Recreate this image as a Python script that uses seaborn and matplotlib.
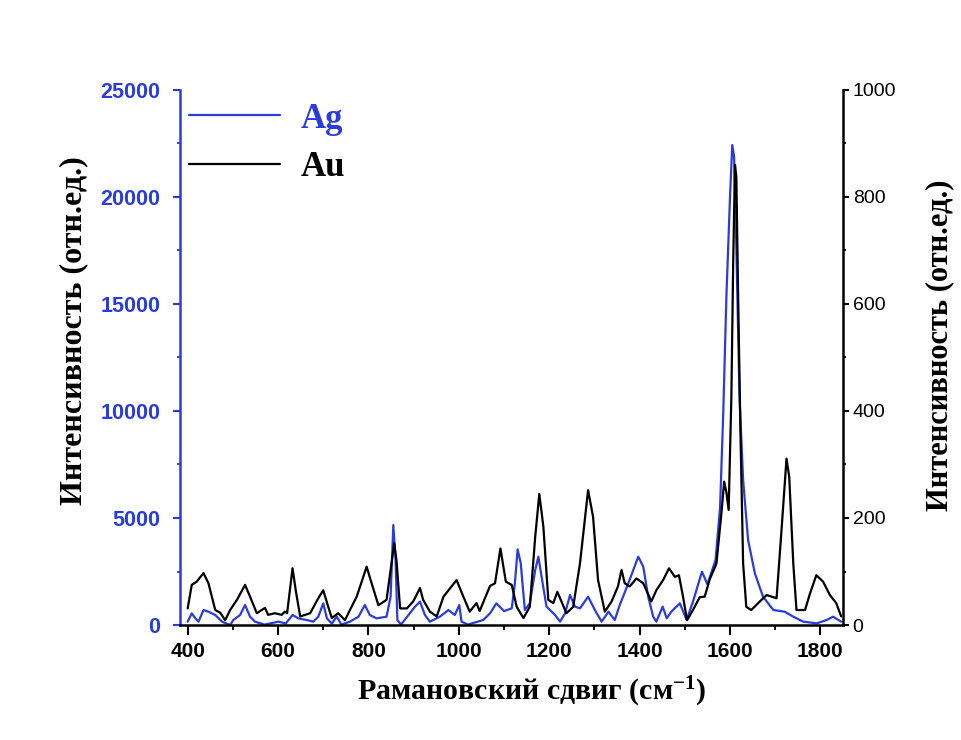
import matplotlib
matplotlib.use("Agg")
import matplotlib.pyplot as plt
from matplotlib.lines import Line2D
from matplotlib.ticker import MultipleLocator
import seaborn as sns
import pandas as pd

# Raman spectra (wavenumber, intensity) for the two substrates
ag_shift = [400, 409, 417, 424, 435, 446, 461, 476, 494, 501, 516, 527, 538, 549, 570,
            601, 617, 632, 645, 663, 678, 689, 700, 708, 719, 730, 740, 759, 778, 792,
            803, 818, 840, 849, 855, 860, 864, 872, 880, 903, 914, 925, 936, 958, 977,
            991, 1001, 1006, 1020, 1054, 1069, 1083, 1100, 1117, 1124, 1130, 1137, 1146,
            1157, 1169, 1176, 1183, 1194, 1213, 1224, 1235, 1246, 1257, 1268, 1286, 1301,
            1316, 1331, 1345, 1356, 1375, 1397, 1408, 1419, 1430, 1437, 1451, 1460, 1470,
            1489, 1504, 1518, 1538, 1550, 1568, 1578, 1585, 1592, 1600, 1605, 1609, 1614,
            1621, 1629, 1640, 1655, 1673, 1696, 1721, 1740, 1762, 1792, 1814, 1828, 1846]
ag_intensity = [156, 545, 311, 156, 700, 622, 467, 156, 0, 234, 467, 934, 389, 156, 20,
                156, 70, 467, 311, 234, 156, 389, 1012, 311, 70, 389, 20, 156, 389, 934,
                467, 311, 389, 1324, 4673, 3037, 234, 20, 234, 857, 1090, 467, 156, 389, 700,
                467, 934, 156, 20, 234, 545, 1012, 650, 778, 1947, 3536, 2881, 700,
                1012, 2570, 3193, 2259, 857, 467, 156, 545, 1402, 857, 778, 1324, 700,
                156, 622, 234, 934, 1947, 3193, 2726, 1324, 389, 156, 857, 311, 622,
                1012, 234, 1090, 2492, 1900, 3037, 5500, 9893, 15342, 20016, 22430, 21884, 17680,
                10669, 6776, 3972, 2416, 1324, 700, 622, 389, 156, 78, 234, 389, 156]

au_shift = [400, 409, 420, 435, 446, 461, 472, 483, 494, 509, 527, 538, 553, 571, 578,
            593, 608, 615, 620, 632, 640, 649, 671, 689, 700, 711, 719, 733, 748, 759,
            774, 796, 807, 822, 840, 851, 857, 862, 870, 885, 899, 914, 921, 936, 951,
            966, 995, 1010, 1024, 1039, 1046, 1069, 1080, 1092, 1104, 1117, 1128, 1143,
            1157, 1169, 1178, 1187, 1198, 1209, 1218, 1227, 1238, 1253, 1268, 1286, 1297,
            1308, 1323, 1338, 1352, 1360, 1367, 1378, 1393, 1408, 1426, 1437, 1452, 1465,
            1478, 1487, 1496, 1505, 1518, 1533, 1544, 1555, 1570, 1581, 1587, 1592, 1597,
            1603, 1607, 1611, 1614, 1618, 1623, 1629, 1636, 1647, 1666, 1681, 1692, 1703,
            1714, 1725, 1731, 1740, 1747, 1766, 1777, 1791, 1806, 1821, 1835, 1846]
au_intensity = [31, 75, 81, 97, 78, 28, 23, 9, 28, 47, 75, 53, 22, 32, 19,
                22, 19, 25, 22, 106, 60, 16, 22, 50, 65, 34, 13, 22, 9, 28,
                53, 109, 78, 37, 47, 115, 153, 121, 31, 31, 44, 69, 47, 25, 16,
                53, 84, 53, 25, 41, 26, 73, 78, 143, 81, 75, 34, 13,
                34, 165, 245, 184, 47, 41, 62, 44, 22, 34, 115, 252, 202,
                84, 25, 44, 72, 103, 78, 72, 87, 78, 44, 65, 84, 106,
                90, 93, 53, 9, 28, 52, 53, 85, 115, 209, 268, 248, 215,
                427, 676, 860, 838, 614, 364, 115, 34, 28, 44, 56, 53, 50,
                178, 311, 277, 115, 28, 28, 59, 93, 81, 56, 41, 16]

series_labels = ["Ag", "Au"]
x_label = "Рамановский сдвиг (см$^{\\mathregular{-1}}$)"
y_label = "Интенсивность (отн.ед.)"

BLUE = "#2a3ddc"
BLACK = "#000000"

sns.set_theme(style="ticks")
plt.rcParams["font.family"] = ["Liberation Sans", "DejaVu Sans"]
plt.rcParams["mathtext.default"] = "regular"
plt.rcParams["text.color"] = BLACK
plt.rcParams["axes.labelcolor"] = BLACK

ag_df = pd.DataFrame({"shift": ag_shift, "intensity": ag_intensity})
au_df = pd.DataFrame({"shift": au_shift, "intensity": au_intensity})

fig = plt.figure(figsize=(9.62, 7.40), dpi=100)
fig.subplots_adjust(left=0.1871, right=0.8763, bottom=0.1554, top=0.8784)
ax = fig.add_subplot(111)
ax2 = ax.twinx()

sns.lineplot(data=ag_df, x="shift", y="intensity", ax=ax, color=BLUE, linewidth=1.6)
sns.lineplot(data=au_df, x="shift", y="intensity", ax=ax2, color=BLACK, linewidth=1.6)

ax.set_xlim(383, 1850)
ax.set_ylim(0, 25000)
ax2.set_ylim(0, 1000)

ax.xaxis.set_major_locator(MultipleLocator(200))
ax.xaxis.set_minor_locator(MultipleLocator(100))
ax.yaxis.set_major_locator(MultipleLocator(5000))
ax.yaxis.set_minor_locator(MultipleLocator(2500))
ax2.yaxis.set_major_locator(MultipleLocator(200))
ax2.yaxis.set_minor_locator(MultipleLocator(100))

spine_w = 1.8
for s in ["top", "right"]:
    ax.spines[s].set_visible(False)
for s in ["top", "left", "bottom"]:
    ax2.spines[s].set_visible(False)
ax.spines["left"].set_color(BLUE)
ax.spines["left"].set_linewidth(spine_w)
ax.spines["bottom"].set_color(BLACK)
ax.spines["bottom"].set_linewidth(spine_w)
ax2.spines["right"].set_color(BLACK)
ax2.spines["right"].set_linewidth(spine_w)

ax.tick_params(axis="x", which="major", direction="out", length=7, width=1.5,
               color=BLACK, labelcolor=BLACK, labelsize=15, pad=5.5, bottom=True)
ax.tick_params(axis="x", which="minor", direction="out", length=3.5, width=1.3,
               color=BLACK, bottom=True)
ax.tick_params(axis="y", which="major", direction="out", length=5, width=1.5,
               color=BLUE, labelcolor=BLUE, labelsize=15.5, pad=9, left=True)
ax.tick_params(axis="y", which="minor", direction="out", length=2.5, width=1.3,
               color=BLUE, left=True)
ax2.tick_params(axis="y", which="major", direction="out", length=4, width=1.5,
                color=BLACK, labelcolor=BLACK, labelsize=14, pad=3, right=True)
ax2.tick_params(axis="y", which="minor", direction="out", length=2.5, width=1.3,
                color=BLACK, right=True)

for lab in ax.get_xticklabels() + ax.get_yticklabels():
    lab.set_fontweight("bold")

serif_bold = dict(family=["Liberation Serif", "DejaVu Serif"], weight="bold")
ax.set_xlabel(x_label, fontsize=21.5, color=BLACK, **serif_bold)
ax.set_ylabel(y_label, fontsize=23, color=BLACK, **serif_bold)
ax2.set_ylabel(y_label, fontsize=22, color=BLACK, **serif_bold)
ax.xaxis.set_label_coords(0.531, -0.093)
ax.yaxis.set_label_coords(-0.139, 0.55)
ax2.yaxis.set_label_coords(1.124, 0.523)

handles = [Line2D([], [], color=BLUE, linewidth=1.6),
           Line2D([], [], color=BLACK, linewidth=1.6)]
leg = ax2.legend(handles, series_labels, loc="upper left", bbox_to_anchor=(-0.033, 1.035),
                 frameon=False, handlelength=2.6, handletextpad=0.6, labelspacing=0.45,
                 borderpad=0.4, prop=dict(family=["Liberation Serif"], weight="bold", size=25))
for txt, col in zip(leg.get_texts(), [BLUE, BLACK]):
    txt.set_color(col)

fig.savefig("out.png", dpi=100)
